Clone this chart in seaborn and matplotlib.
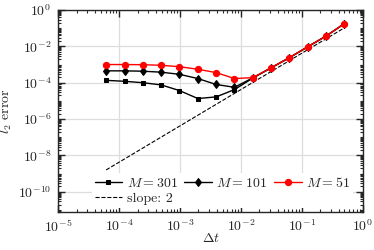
import numpy as np
import pandas as pd
import matplotlib
matplotlib.use('Agg')
import matplotlib.pyplot as plt
import matplotlib.ticker as mticker
import seaborn as sns

# time steps (halving)
dt = [6.1035e-5, 1.2207e-4, 2.4414e-4, 4.8828e-4, 9.7656e-4, 1.9531e-3, 3.9063e-3,
      7.8125e-3, 1.5625e-2, 3.125e-2, 6.25e-2, 0.125, 0.25, 0.5]

err_301 = [1.35e-4, 1.2e-4, 1.0e-4, 7.6e-5, 3.7e-5, 1.35e-5, 1.66e-5,
           4.2e-5, 1.8e-4, 6.6e-4, 2.4e-3, 9.5e-3, 3.7e-2, 0.18]
err_101 = [4.5e-4, 4.5e-4, 4.3e-4, 3.8e-4, 2.9e-4, 1.7e-4, 8.0e-5,
           5.6e-5, 1.85e-4, 6.6e-4, 2.4e-3, 9.5e-3, 3.7e-2, 0.18]
err_51 = [1.0e-3, 1.0e-3, 9.8e-4, 9.1e-4, 7.6e-4, 5.5e-4, 3.6e-4,
          1.7e-4, 1.9e-4, 6.6e-4, 2.4e-3, 9.5e-3, 3.7e-2, 0.18]

slope_x = [6.1e-5, 0.5]
slope_y = [1.6e-9, 0.105]

yticks = [1e-10, 1e-8, 1e-6, 1e-4, 1e-2, 1]

sns.set_style('ticks')
plt.rcParams['font.family'] = 'serif'
plt.rcParams['font.serif'] = ['cmr10', 'DejaVu Serif']
plt.rcParams['mathtext.fontset'] = 'cm'
plt.rcParams['axes.formatter.use_mathtext'] = True
plt.rcParams['axes.unicode_minus'] = False

fig = plt.figure(figsize=(3.74, 2.5), dpi=100)
ax = fig.add_axes([0.156, 0.153, 0.814, 0.807])

sns.lineplot(x=dt, y=err_301, ax=ax, color='k', marker='s', markersize=3.5,
             markeredgecolor='k', linewidth=1, label=r'$M=301$', zorder=3)
sns.lineplot(x=dt, y=err_101, ax=ax, color='k', marker='d', markersize=4.5,
             markeredgecolor='k', linewidth=1, label=r'$M=101$', zorder=3)
sns.lineplot(x=dt, y=err_51, ax=ax, color='red', marker='o', markersize=4.5,
             markeredgecolor='red', linewidth=1, label=r'$M=51$', zorder=4)
sns.lineplot(x=slope_x, y=slope_y, ax=ax, color='k', linestyle='--', linewidth=0.8,
             label='slope: 2', zorder=2)

ax.set_xscale('log')
ax.set_yscale('log')
ax.set_xlim(1e-5, 1)
ax.set_ylim(8e-12, 1)

ax.xaxis.set_major_locator(mticker.LogLocator(base=10, numticks=20))
ax.xaxis.set_minor_locator(mticker.LogLocator(base=10, subs=np.arange(2, 10), numticks=100))
ax.xaxis.set_minor_formatter(mticker.NullFormatter())
ax.yaxis.set_major_locator(mticker.FixedLocator(yticks))
ax.yaxis.set_major_formatter(mticker.LogFormatterSciNotation())
ax.yaxis.set_minor_locator(mticker.LogLocator(base=10, subs=np.arange(1, 10), numticks=100))
ax.yaxis.set_minor_formatter(mticker.NullFormatter())

ax.tick_params(which='both', direction='in', top=True, right=True, labelsize=10)
ax.tick_params(which='major', length=5, width=1.0, pad=5)
ax.tick_params(which='minor', length=2.5, width=0.8)
ax.grid(True, which='major', color='#dddddd', linewidth=0.9)
ax.set_axisbelow(True)
for s in ax.spines.values():
    s.set_linewidth(1.0)

ax.set_xlabel(r'$\Delta t$', fontsize=10, labelpad=-2)
ax.set_ylabel(r'$l_2$ error', fontsize=10, labelpad=3)

handles, labels = ax.get_legend_handles_labels()
order = [0, 3, 1, 2]
ax.legend([handles[i] for i in order], [labels[i] for i in order],
          ncol=3, loc='lower right', fontsize=10, frameon=True, fancybox=False,
          edgecolor='none', facecolor='white', framealpha=1,
          handlelength=2.0, columnspacing=0.5, handletextpad=0.3,
          labelspacing=0.2, borderpad=0.2, bbox_to_anchor=(0.99, -0.015))

fig.savefig('out.png', dpi=100)
